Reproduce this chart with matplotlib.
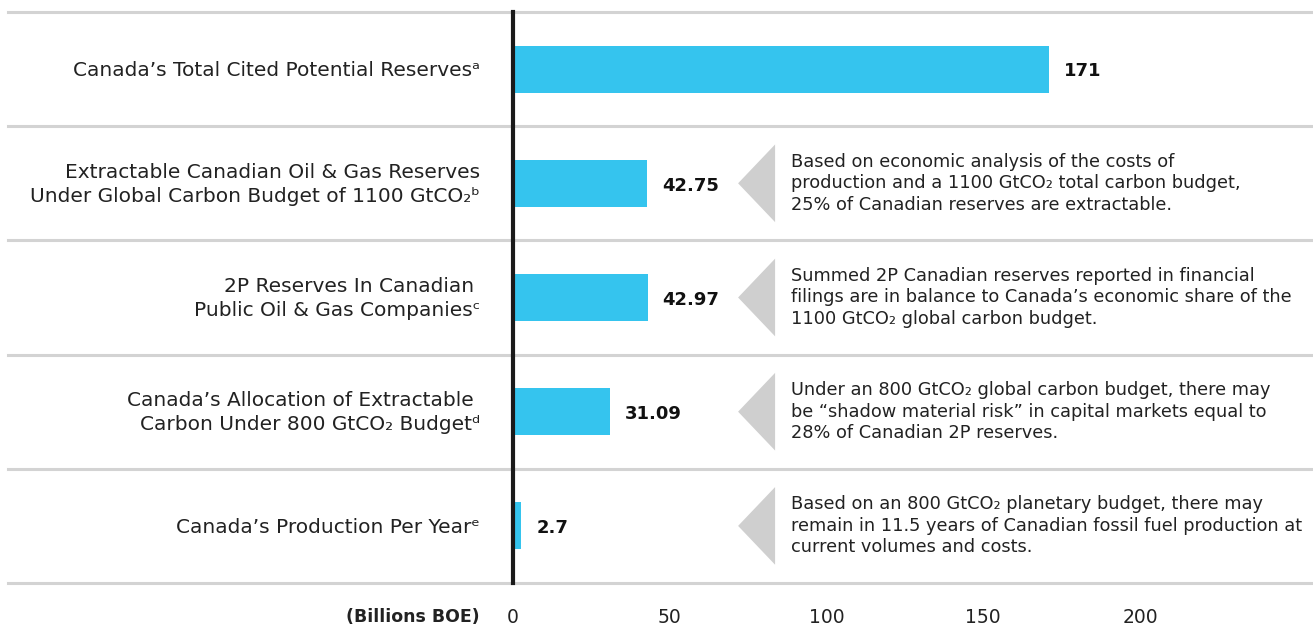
import matplotlib.pyplot as plt
from matplotlib.patches import Polygon

# chart data
labels = [
    "Canada\u2019s Total Cited Potential Reserves\u1d43",
    "Extractable Canadian Oil & Gas Reserves\nUnder Global Carbon Budget of 1100 GtCO\u2082\u1d47",
    "2P Reserves In Canadian \nPublic Oil & Gas Companies\u1d9c",
    "Canada\u2019s Allocation of Extractable \nCarbon Under 800 GtCO\u2082 Budget\u1d48",
    "Canada\u2019s Production Per Year\u1d49",
]
values = [171, 42.75, 42.97, 31.09, 2.7]
value_labels = ["171", "42.75", "42.97", "31.09", "2.7"]
notes = [
    None,
    "Based on economic analysis of the costs of\nproduction and a 1100 GtCO\u2082 total carbon budget,\n25% of Canadian reserves are extractable.",
    "Summed 2P Canadian reserves reported in financial\nfilings are in balance to Canada\u2019s economic share of the\n1100 GtCO\u2082 global carbon budget.",
    "Under an 800 GtCO\u2082 global carbon budget, there may\nbe \u201cshadow material risk\u201d in capital markets equal to\n28% of Canadian 2P reserves.",
    "Based on an 800 GtCO\u2082 planetary budget, there may\nremain in 11.5 years of Canadian fossil fuel production at\ncurrent volumes and costs.",
]
ticks = [0, 50, 100, 150, 200]

BLUE = "#35C4EE"
GREY = "#D3D3D3"
TXT = "#222222"

plt.rcParams["font.family"] = ["DejaVu Sans"]

fig = plt.figure(figsize=(13.13, 6.26), dpi=100)
ax = fig.add_axes([513 / 1313, 43 / 626, 800 / 1313, 571 / 626])

rows = list(range(len(values)))
ax.barh(rows, values, height=0.41, color=BLUE, zorder=2)
ax.set_xlim(0, 800 / 3.135)
ax.set_ylim(len(values) - 0.5, -0.5)

# separators across the whole width
for b in [r - 0.5 for r in rows] + [len(rows) - 0.5]:
    ax.plot([-0.631, 1.0], [b, b], transform=ax.get_yaxis_transform(),
            color=GREY, lw=2.2, clip_on=False, zorder=1)

for r, lab, v, vl, note in zip(rows, labels, values, value_labels, notes):
    ax.text(-10.5, r + 0.01, lab, ha="right", va="center", fontsize=14.5,
            color=TXT, multialignment="right", linespacing=1.35)
    ax.text(v + 4.7, r + 0.02, vl, ha="left", va="center", fontsize=13,
            fontweight="bold", color="#111111")
    if note:
        tri = Polygon([[71.8, r], [83.6, r - 0.34], [83.6, r + 0.34]],
                      closed=True, facecolor="#CFCFCF", edgecolor="none")
        ax.add_patch(tri)
        ax.text(88.7, r, note, ha="left", va="center", fontsize=12.8,
                color=TXT, linespacing=1.25)

ax.set_xticks(ticks)
ax.set_xticklabels([str(t) for t in ticks], fontsize=13.5, color=TXT)
ax.tick_params(axis="x", length=0, pad=18)
ax.set_yticks([])
ax.text(-10.5, -0.06, "(Billions BOE)", transform=ax.get_xaxis_transform(),
        ha="right", va="center", fontsize=12.5, fontweight="bold", color=TXT)

for s in ["top", "right", "bottom"]:
    ax.spines[s].set_visible(False)
ax.spines["left"].set_linewidth(3)
ax.spines["left"].set_color("#1a1a1a")
ax.spines["left"].set_zorder(3)

fig.savefig("out.png", dpi=100, facecolor="white")
